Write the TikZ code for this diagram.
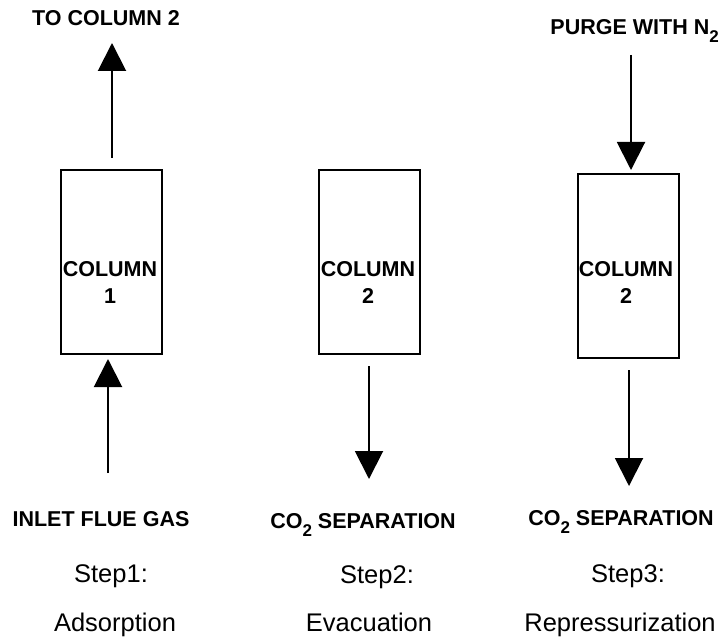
\documentclass[tikz,border=0pt]{standalone}
\usepackage{fontspec}
\setmainfont{Liberation Sans}
\usetikzlibrary{arrows.meta,calc}
\newcommand{\lowtwo}{\raisebox{-8pt}{\fontsize{17}{17}\selectfont 2}}
\tikzset{
  col/.style     = {draw, line width=2pt, minimum width=101pt, minimum height=184pt,
                    inner sep=0pt},
  flow/.style    = {-{Triangle[length=28pt,width=28pt]}, line width=2pt},
  tag/.style     = {font=\fontsize{21.5}{26}\selectfont\bfseries, inner sep=0pt, anchor=base},
  phase/.style   = {font=\fontsize{25.5}{30}\selectfont, inner sep=0pt, anchor=base},
}

\begin{document}
\begin{tikzpicture}[x=1pt, y=-1pt]
  \useasboundingbox (0,0) rectangle (722,639);
  % the three columns
  \node[col] (c1) at (111.5,262) {};
  \node[col] (c2) at (369.5,262) {};
  \node[col] (c3) at (628,266) {};
  \node[tag] (n1) at (110,276) {COLUMN};
  \node[tag] (k1) at (110,303) {1};
  \node[tag] (n2) at (368,276) {COLUMN};
  \node[tag] (k2) at (368,303) {2};
  \node[tag] (n3) at (626,276) {COLUMN};
  \node[tag] (k3) at (626,303) {2};
  % streams
  \coordinate (out1) at (112,43);
  \coordinate (in1) at (108,473);
  \coordinate (out2) at (369,479);
  \coordinate (purge) at (631,55);
  \coordinate (out3) at (629,486);
  \draw[flow, shorten <=11pt] (c1.north -| out1) -- (out1);
  \draw[flow, shorten >=4pt] (in1) -- (c1.south -| in1);
  \draw[flow, shorten <=11pt] (c2.south -| out2) -- (out2);
  \draw[flow, shorten >=3pt] (purge) -- (c3.north -| purge);
  \draw[flow, shorten <=11pt] (c3.south -| out3) -- (out3);
  % labels
  \node[tag] (top1) at (106,26) {TO COLUMN 2};
  \node[tag, anchor=base east] (top3) at (719,35) {PURGE WITH N\lowtwo};
  \node[tag] (feed) at (101,526) {INLET FLUE GAS};
  \node[tag] (prod2) at (363,528) {CO\lowtwo\ SEPARATION};
  \node[tag] (prod3) at (621,525) {CO\lowtwo\ SEPARATION};
  \node[phase] (s1) at (111,582) {Step1:};
  \node[phase] (s2) at (377,583) {Step2:};
  \node[phase] (s3) at (628,582) {Step3:};
  \node[phase] (p1) at (115,631) {Adsorption};
  \node[phase] (p2) at (369,631) {Evacuation};
  \node[phase] (p3) at (620,631) {Repressurization};
\end{tikzpicture}
\end{document}
